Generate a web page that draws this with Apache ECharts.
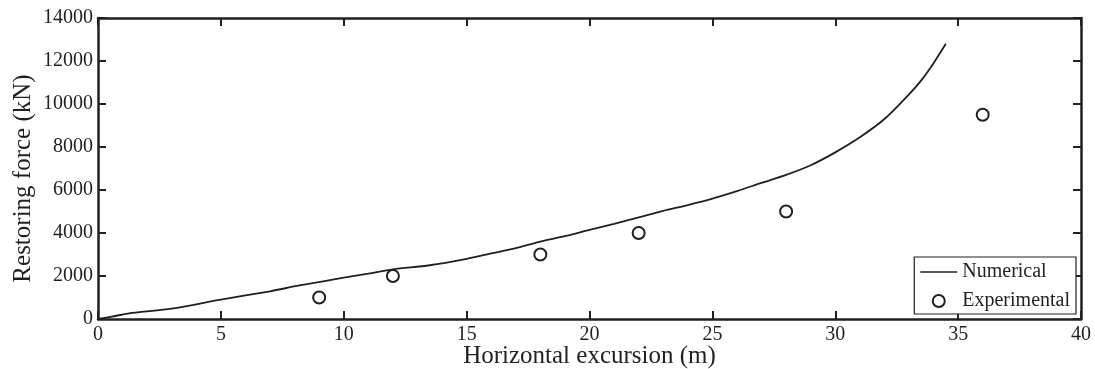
<!DOCTYPE html>
<html>
<head>
<meta charset="utf-8">
<script src="https://cdn.jsdelivr.net/npm/echarts@6/dist/echarts.min.js"></script>
<style>
  html, body { margin: 0; padding: 0; background: #fff; }
  #chart { width: 1095px; height: 369px; }
</style>
</head>
<body>
<div id="chart"></div>
<script>
// Numerical curve
const numX = [0, 0.7, 1.4, 3, 5, 7, 8.2, 10, 11, 12, 13.5, 15, 16, 17, 18, 19, 20, 21, 22, 23, 24, 25, 26, 27, 28, 29, 30, 31, 32, 33, 33.5, 34, 34.5]
const numY = [0, 140, 280, 480, 900, 1290, 1560, 1920, 2110, 2310, 2500, 2800, 3050, 3300, 3600, 3850, 4150, 4430, 4730, 5030, 5300, 5600, 5950, 6330, 6700, 7150, 7750, 8450, 9300, 10450, 11100, 11900, 12800]

// Experimental points
const expX = [9, 12, 18, 22, 28, 36]
const expY = [1000, 2000, 3000, 4000, 5000, 9500]

const xTicks = { min: 0, max: 40, interval: 5 }
const yTicks = { min: 0, max: 14000, interval: 2000 }

const ink = '#231f20'
const font = '"Liberation Serif", "Times New Roman", serif'

const chart = echarts.init(document.getElementById('chart'))

const baseAxis = {
  axisLine: { show: true, onZero: false, lineStyle: { color: ink, width: 2.5 } },
  axisTick: { show: true, inside: true, length: 8, lineStyle: { color: ink, width: 2 } },
  splitLine: { show: false }
}

const option = {
  animation: false,
  grid: { left: 98, right: 14, top: 18, bottom: 50, containLabel: false, outerBoundsMode: 'none' },
  legend: {
    right: 19,
    bottom: 55,
    orient: 'vertical',
    align: 'left',
    backgroundColor: '#fff',
    borderColor: ink,
    borderWidth: 1.2,
    borderRadius: 0,
    padding: [5, 6, 3, 6],
    itemGap: 9,
    itemWidth: 37,
    itemHeight: 12,
    textStyle: { fontFamily: font, fontSize: 20, color: ink, lineHeight: 20 },
    data: [
      { name: 'Numerical', icon: 'path://M0,0L100,0L100,4L0,4Z', itemStyle: { color: ink } },
      { name: 'Experimental', icon: 'emptyCircle', itemStyle: { color: ink, borderColor: ink, borderWidth: 2, opacity: 1 } }
    ]
  },
  xAxis: [
    Object.assign({}, baseAxis, {
      type: 'value', position: 'bottom',
      min: xTicks.min, max: xTicks.max, interval: xTicks.interval,
      name: 'Horizontal excursion (m)',
      nameLocation: 'middle',
      nameGap: 25,
      nameMoveOverlap: false,
      nameTextStyle: { fontFamily: font, fontSize: 25, color: ink },
      axisLabel: { fontFamily: font, fontSize: 20, color: ink, margin: 6, formatter: v => String(v) }
    }),
    Object.assign({}, baseAxis, {
      type: 'value', position: 'top',
      min: xTicks.min, max: xTicks.max, interval: xTicks.interval,
      axisLabel: { show: false }
    })
  ],
  yAxis: [
    Object.assign({}, baseAxis, {
      type: 'value', position: 'left',
      min: yTicks.min, max: yTicks.max, interval: yTicks.interval,
      name: 'Restoring force (kN)',
      nameLocation: 'middle',
      nameGap: 62,
      nameMoveOverlap: false,
      nameTextStyle: { fontFamily: font, fontSize: 25, color: ink, padding: [0, 20, 0, 0] },
      axisLabel: { fontFamily: font, fontSize: 20, color: ink, margin: 5, formatter: v => String(v) }
    }),
    Object.assign({}, baseAxis, {
      type: 'value', position: 'right',
      min: yTicks.min, max: yTicks.max, interval: yTicks.interval,
      axisLabel: { show: false }
    })
  ],
  series: [
    {
      name: 'Numerical',
      type: 'line',
      symbol: 'none',
      smooth: 0.3,
      lineStyle: { color: ink, width: 1.8 },
      data: numX.map((x, i) => [x, numY[i]])
    },
    {
      name: 'Experimental',
      type: 'scatter',
      symbol: 'emptyCircle',
      symbolSize: 12,
      itemStyle: { color: ink, borderColor: ink, borderWidth: 2, opacity: 1 },
      data: expX.map((x, i) => [x, expY[i]])
    }
  ]
}

chart.setOption(option)
</script>
</body>
</html>
